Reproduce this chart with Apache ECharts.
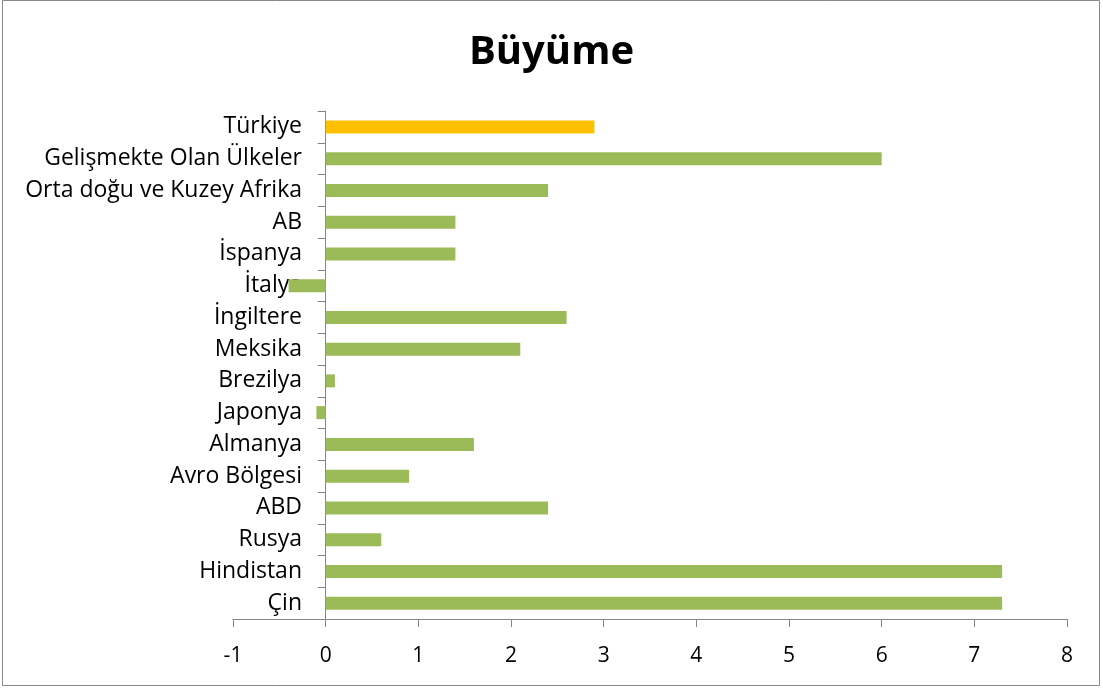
<!DOCTYPE html>
<html>
<head>
<meta charset="utf-8">
<script src="https://cdn.jsdelivr.net/npm/echarts@6/dist/echarts.min.js"></script>
<style>
html,body{margin:0;padding:0;background:#fff;}
#chart{width:1103px;height:688px;}
</style>
</head>
<body>
<div id="chart"></div>
<script>
// Categories listed bottom to top (ECharts category y-axis starts at the bottom)
const categories = ["Çin", "Hindistan", "Rusya", "ABD", "Avro Bölgesi", "Almanya", "Japonya", "Brezilya", "Meksika", "İngiltere", "İtalya", "İspanya", "AB", "Orta doğu ve Kuzey Afrika", "Gelişmekte Olan Ülkeler", "Türkiye"];
const growth = [7.3, 7.3, 0.6, 2.4, 0.9, 1.6, -0.1, 0.1, 2.1, 2.6, -0.4, 1.4, 1.4, 2.4, 6.0, 2.9];
const highlight = "Türkiye";
const xTicks = [-1, 0, 1, 2, 3, 4, 5, 6, 7, 8];

const chart = echarts.init(document.getElementById('chart'), null, {renderer: 'canvas'});
const font = "'Open Sans', 'Noto Sans', sans-serif";
chart.setOption({
  animation: false,
  backgroundColor: '#ffffff',
  title: {
    text: 'Büyüme',
    left: 'center',
    top: 28,
    textStyle: {fontFamily: "'Open Sans', 'Noto Sans', sans-serif", fontWeight: 'bold', fontSize: 40, color: '#000'}
  },
  graphic: [{
    type: 'rect',
    shape: {x: 2.5, y: 0.5, width: 1097, height: 685},
    style: {fill: 'none', stroke: '#888888', lineWidth: 1},
    silent: true
  }],
  grid: {left: 233, right: 36, top: 111, bottom: 69, containLabel: false, outerBoundsMode: 'none'},
  xAxis: {
    type: 'value',
    min: xTicks[0],
    max: xTicks[xTicks.length - 1],
    interval: 1,
    axisLine: {show: true, onZero: false, lineStyle: {color: '#868686', width: 1}},
    axisTick: {show: true, length: 8, lineStyle: {color: '#868686'}},
    splitLine: {show: false},
    axisLabel: {margin: 27, fontFamily: font, fontSize: 21, color: '#000'}
  },
  yAxis: {
    type: 'category',
    data: categories,
    axisLine: {show: true, onZero: true, lineStyle: {color: '#868686', width: 1}},
    axisTick: {show: true, length: 8, lineStyle: {color: '#868686'}},
    axisLabel: {margin: -69, align: 'right', fontFamily: font, fontSize: 23, color: '#000', interval: 0}
  },
  series: [{
    type: 'bar',
    barWidth: 13,
    data: growth.map((v, i) => ({
      value: v,
      itemStyle: {color: categories[i] === highlight ? '#FFC000' : '#9BBB59'}
    })),
    z: 5
  }]
});
</script>
</body>
</html>
